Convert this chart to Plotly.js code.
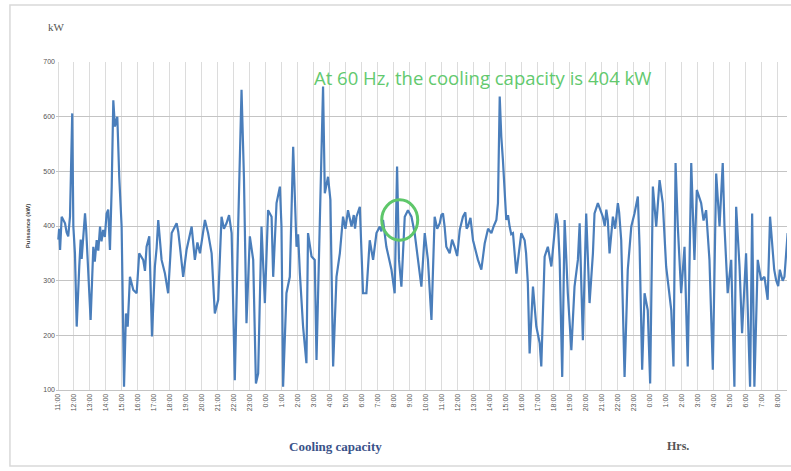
<!DOCTYPE html>
<html>
<head>
<meta charset="utf-8">
<script src="https://cdn.plot.ly/plotly-3.0.1.min.js"></script>
<style>html,body{margin:0;padding:0;background:#fff;}#chart{width:791px;height:471px;}</style>
</head>
<body>
<div id="chart"></div>
<script>
// Hourly tick labels (h:mm)
var tickLabels = ["11:00","12:00","13:00","14:00","15:00","16:00","17:00","18:00","19:00","20:00","21:00","22:00","23:00",
  "0:00","1:00","2:00","3:00","4:00","5:00","6:00","7:00","8:00","9:00",
  "10:00","11:00","12:00","13:00","14:00","15:00","16:00","17:00","18:00","19:00","20:00","21:00","22:00","23:00",
  "0:00","1:00","2:00","3:00","4:00","5:00","6:00","7:00","8:00"];

// Elapsed time in hours from the first tick
var hours = [0.02,0.07,0.13,0.23,0.44,0.54,0.64,0.75,0.89,0.96,1.06,1.17,1.33,1.42,1.48,1.54,1.69,1.76,1.83,2.04,
  2.21,2.3,2.42,2.52,2.63,2.72,2.83,2.93,3.04,3.14,3.25,3.36,3.46,3.56,3.71,3.83,3.98,4.13,4.25,4.36,
  4.5,4.71,4.92,5.08,5.33,5.44,5.54,5.71,5.88,6.06,6.17,6.27,6.48,6.69,6.89,7.11,7.42,7.52,7.63,7.83,
  8.04,8.2,8.36,8.56,8.72,8.88,9.19,9.39,9.61,9.81,10.02,10.23,10.38,10.54,10.7,10.86,11.06,11.27,11.48,11.63,
  11.79,12.0,12.21,12.38,12.52,12.73,12.94,13.14,13.36,13.46,13.67,13.88,13.98,14.08,14.29,14.5,14.71,14.92,15.02,15.13,
  15.33,15.54,15.64,15.86,16.06,16.17,16.38,16.58,16.69,16.89,17.04,17.21,17.42,17.63,17.83,17.98,18.14,18.25,18.36,18.5,
  18.58,18.67,18.88,19.08,19.29,19.5,19.71,19.92,20.13,20.23,20.33,20.54,20.86,21.06,21.21,21.33,21.48,21.69,21.89,22.11,
  22.2,22.31,22.52,22.73,22.94,23.14,23.36,23.56,23.72,23.88,23.98,24.08,24.18,24.29,24.5,24.65,24.81,24.97,25.13,25.33,
  25.48,25.56,25.64,25.8,25.96,26.27,26.48,26.69,26.9,27.11,27.26,27.42,27.52,27.63,27.73,27.83,28.04,28.15,28.25,28.35,
  28.46,28.67,28.98,29.19,29.28,29.39,29.5,29.71,29.92,30.13,30.23,30.44,30.64,30.86,31.17,31.27,31.38,31.54,31.69,31.89,
  32.11,32.31,32.52,32.63,32.83,33.04,33.25,33.46,33.56,33.77,34.08,34.2,34.3,34.39,34.5,34.71,34.85,35.02,35.1,35.23,
  35.44,35.64,35.86,36.06,36.27,36.38,36.54,36.69,36.89,37.04,37.21,37.42,37.63,37.83,38.04,38.2,38.36,38.5,38.63,38.77,
  38.98,39.19,39.39,39.61,39.81,39.96,40.23,40.38,40.54,40.75,40.96,41.17,41.38,41.58,41.69,41.89,42.11,42.31,42.42,42.63,
  42.79,43.04,43.29,43.42,43.56,43.77,43.98,44.19,44.39,44.54,44.71,44.8,44.92,45.05,45.15,45.23,45.33,45.44,45.64];

// Cooling capacity (kW)
var capacity = [375,395,356,417,405,388,381,417,606,399,350,216,326,375,340,362,423,395,350,228,
  362,335,374,355,399,372,393,380,423,430,356,472,630,582,600,490,399,106,240,216,
  307,283,277,350,338,318,362,381,198,326,360,411,338,313,277,387,405,390,362,307,
  356,375,399,338,370,350,411,387,350,240,265,417,395,405,420,387,118,399,649,490,
  222,381,338,112,130,399,259,429,417,307,442,472,399,106,277,307,545,362,385,313,
  216,149,387,344,338,155,399,655,460,490,448,143,307,350,417,395,429,410,399,420,
  395,417,435,277,277,374,338,387,399,390,411,362,320,277,509,338,289,417,429,417,
  400,387,338,289,387,338,228,417,395,405,420,423,400,362,350,375,362,345,393,417,
  425,395,399,415,374,338,320,368,395,387,400,411,442,637,563,521,411,420,399,385,
  387,313,387,374,350,295,167,289,216,186,143,344,362,326,423,405,338,124,411,277,
  173,289,338,405,191,423,259,350,423,442,417,400,430,411,350,417,395,442,425,374,
  124,320,399,423,454,362,137,277,246,112,472,399,484,442,326,290,246,143,515,399,
  277,362,143,515,338,466,442,410,429,338,137,496,399,515,399,277,338,106,435,326,
  204,350,106,423,106,338,301,307,265,417,362,320,301,290,320,313,300,307,387];

var gridV = '#dcdcdc', gridH = '#c4c4c4';

var trace = {
  x: hours, y: capacity, type: 'scatter', mode: 'lines',
  line: {color: '#4a7ebb', width: 2.2},
  hoverinfo: 'x+y', showlegend: false
};

var layout = {
  width: 791, height: 471,
  margin: {l: 56, r: 4, t: 62, b: 81},
  paper_bgcolor: '#ffffff', plot_bgcolor: '#ffffff',
  font: {family: 'Liberation Sans, Arial, sans-serif', color: '#444'},
  xaxis: {
    range: [-0.125, 45.6],
    tickvals: tickLabels.map(function(_, i){ return i; }),
    ticktext: tickLabels,
    tickangle: -90,
    tickfont: {size: 7, color: '#555'},
    showgrid: true, gridcolor: gridV, gridwidth: 1,
    zeroline: false, showline: true, linecolor: '#c4c4c4',
    ticks: '', automargin: false
  },
  yaxis: {
    range: [100, 700], dtick: 100, tick0: 100,
    tickfont: {size: 7, color: '#555'},
    showgrid: true, gridcolor: gridH, gridwidth: 1,
    zeroline: false, showline: false, ticks: '',
    title: {text: '<b>Puissance (kW)</b>', font: {size: 6, color: '#444'}, standoff: 12},
    automargin: false
  },
  shapes: [
    {type: 'rect', xref: 'paper', yref: 'paper', x0: -0.063, x1: 1.02, y0: -0.232, y1: 1.174,
     line: {color: '#d9d9d9', width: 1.5}, fillcolor: 'rgba(0,0,0,0)', layer: 'below'},
    {type: 'circle', xref: 'x', yref: 'y', x0: 20.25, x1: 22.5, y0: 374, y1: 448,
     line: {color: '#5ec76a', width: 3}}
  ],
  annotations: [
    {text: 'At 60 Hz, the cooling capacity is 404 kW', xref: 'paper', yref: 'paper', x: 0.583, y: 0.954,
     xanchor: 'center', yanchor: 'middle', showarrow: false,
     font: {family: 'Open Sans, Liberation Sans, sans-serif', size: 18.5, color: '#62c96e'}},
    {text: 'kW', xref: 'paper', yref: 'paper', x: 0.001, y: 1.107, xanchor: 'center', yanchor: 'middle', showarrow: false,
     font: {family: 'Liberation Serif, serif', size: 11, color: '#555'}},
    {text: '<b>Cooling capacity</b>', xref: 'paper', yref: 'paper', x: 0.383, y: -0.171,
     xanchor: 'center', yanchor: 'middle', showarrow: false,
     font: {family: 'Liberation Serif, serif', size: 13, color: '#3a5289'}},
    {text: '<b>Hrs.</b>', xref: 'paper', yref: 'paper', x: 0.851, y: -0.171,
     xanchor: 'center', yanchor: 'middle', showarrow: false,
     font: {family: 'Liberation Serif, serif', size: 12, color: '#555'}}
  ]
};

Plotly.newPlot('chart', [trace], layout, {displayModeBar: false, staticPlot: true});
</script>
</body>
</html>
